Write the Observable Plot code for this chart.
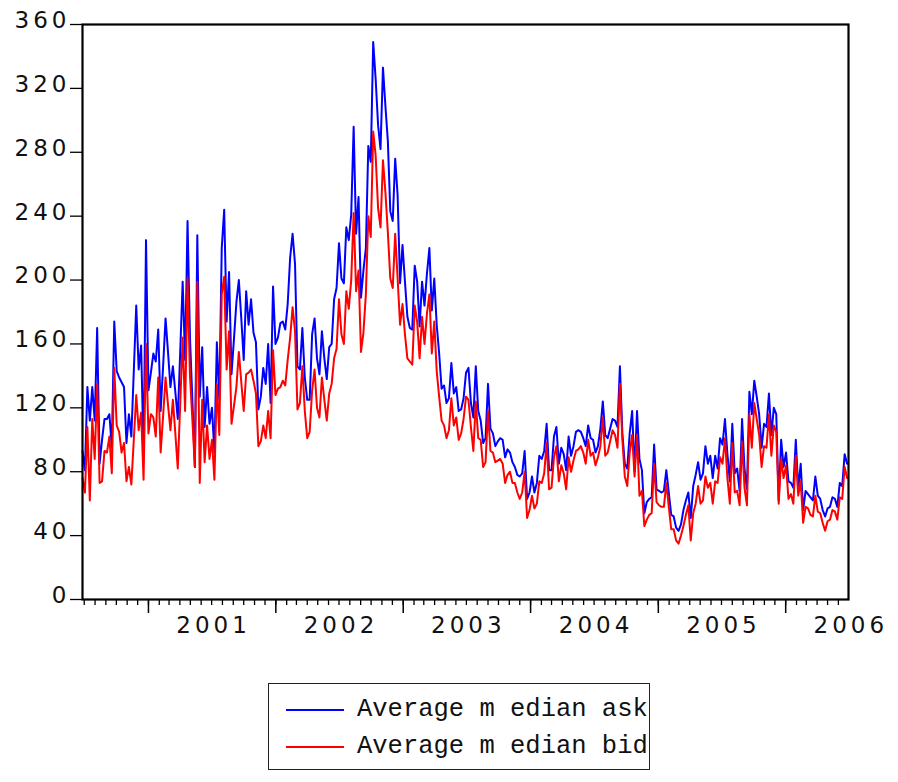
<!DOCTYPE html>
<html>
<head>
<meta charset="utf-8">
<script src="https://cdn.jsdelivr.net/npm/d3@7"></script>
<script src="https://cdn.jsdelivr.net/npm/@observablehq/plot@0.6"></script>
<style>
  html, body { margin: 0; padding: 0; background: #fff; }
  #wrap { position: relative; width: 898px; height: 782px; }
  #legend { position: absolute; left: 268px; top: 683px; width: 382px; height: 87px;
            border: 1.5px solid #222; box-sizing: border-box; background: #fff; }
  #legend .sw { position: absolute; left: 17px; width: 58px; height: 2px; }
  #legend .lt { position: absolute; left: 88px; font-family: "Liberation Mono", monospace;
                font-size: 25.5px; line-height: 26px; color: #111; white-space: pre; }
</style>
</head>
<body>
<div id="wrap"></div>
<script>
// Weekly observations, first week starting 2000-06-26
const startDate = "2000-06-26";
const seriesNames = ["Average m edian ask", "Average m edian bid"];
const seriesColors = ["#0000ff", "#ff0000"];

const ask = [
  93, 81,133,112,133,112,170, 85,100,113,113,116, 95,174,143,139,136,133, 98,116,
 102,143,184,144,159, 91,225,131,142,154,149,169,118,146,176,155,133,146,130,113,
 155,199,150,237,164,124, 83,228,127,158,108,133,110,120, 92,161,125,220,244,174,
 205,141,163,186,200,176,150,193,172,188,167,161,119,127,145,135,160,123,196,160,
 164,173,174,169,185,214,229,210,146,144,170,139,125,125,166,176,151,141,168,151,
 138,158,160,188,195,223,201,198,233,225,241,296,229,252,189,206,220,284,274,349,
 326,297,282,333,309,287,243,237,276,253,198,222,199,177,170,169,209,199,171,199,
 184,204,220,181,201,172,154,132,134,123,126,148,129,133,118,119,126,142,145,123,
 114,146,118,112, 98,101,135,107,104, 96, 99,101,100, 89, 94, 92, 86, 83, 78, 77,
  79, 93, 63, 67, 77, 67, 73, 90, 88, 93,110, 81, 81,102,108, 85, 95, 91, 81,102,
  90, 96,105,106,105,101, 96,109,101,100, 92, 96,107,124,103,101,107,113,112,108,
 146,104, 85, 82,104,118, 80,118, 88, 81, 54, 61, 63, 64, 97, 69, 68, 67, 68, 81,
  67, 53, 52, 45, 43, 47, 56, 62, 67, 51, 71, 78, 86, 75, 79, 96, 85, 90, 76, 90,
  82,101, 97,113, 91, 74,110, 79, 82, 68,113, 82, 69,130,116,137,127,116, 95,110,
 108,129,103,120,116, 62,100, 83, 92, 74, 73, 70,100, 69, 85, 56, 68, 66, 64, 62,
  77, 65, 63, 56, 52, 57, 58, 64, 63, 58, 73, 71, 91, 85
];
const bid = [
  76, 67,108, 62,113, 88,135, 73, 74, 93, 92,102, 79,145,109,105, 92, 98, 74, 83,
  72,100,128,106,117, 75,160,104,116,114,102,139, 92,115,139,122,106,125,104, 82,
 122,164,118,201,140,112, 83,199, 73,125, 86,109, 88,100, 75,135,103,191,202,144,
 168,110,121,133,155,136,118,141,142,144,137,129, 96, 99,109,101,118,101,156,128,
 132,133,137,134,150,164,183,168,119,123,146,118,101,105,131,144,120,114,139,125,
 112,129,135,151,157,188,166,160,193,182,200,242,193,206,155,167,191,240,227,293,
 278,245,233,275,255,230,201,195,229,201,172,185,166,151,149,147,184,174,151,177,
 160,179,191,154,174,143,127,112,109,101,106,126,109,114,100,104,113,127,125,108,
  93,124,101,100, 83, 86,118, 93, 92, 86, 87, 88, 85, 73, 78, 80, 73, 73, 67, 63,
  67, 80, 51, 56, 65, 57, 60, 74, 73, 79, 98, 69, 70, 89, 96, 74, 84, 79, 69, 89,
  80, 87, 93, 94, 96, 92, 85,100, 90, 92, 84, 89, 96,114, 90, 92, 99,106,103, 95,
 135,100, 77, 71, 92,103, 77,103, 65, 68, 46, 50, 53, 54, 85, 61, 59, 58, 58, 73,
  58, 44, 44, 37, 35, 40, 46, 53, 59, 37, 54, 60, 71, 60, 62, 77, 70, 73, 60, 74,
  73, 89, 85,101, 76, 60, 98, 67, 68, 59, 99, 70, 59,116, 95,123,113,103, 83, 96,
  95,116, 90,109,105, 60, 88, 76, 84, 63, 66, 60, 90, 65, 74, 48, 58, 57, 53, 52,
  65, 55, 54, 48, 43, 49, 50, 56, 55, 50, 64, 63, 83, 76
];
const yTicks = [0, 40, 80, 120, 160, 200, 240, 280, 320, 360];
const yearLabels = [2001, 2002, 2003, 2004, 2005, 2006];

const t0 = new Date(startDate + "T00:00:00Z");
const data = ask.map((a, i) => ({date: d3.utcDay.offset(t0, 7 * i), ask: a, bid: bid[i]}));
const domain = [t0, new Date("2006-06-30T00:00:00Z")];
const months = d3.utcMonth.range(d3.utcMonth.ceil(domain[0]), domain[1]);
const years = d3.utcYear.range(d3.utcYear.ceil(domain[0]), domain[1]);
const yearMids = yearLabels.map(y => new Date(Date.UTC(y, 6, 1)));

const font = "DejaVu Sans";
const spacing = 4;
const chart = Plot.plot({
  width: 898,
  height: 660,
  marginLeft: 82,
  marginRight: 50,
  marginTop: 24,
  marginBottom: 61,
  style: {background: "#fff", overflow: "visible"},
  x: {type: "utc", domain, axis: null, label: null},
  y: {domain: [0, 360], axis: null, label: null},
  marks: [
    Plot.lineY(data, {x: "date", y: "ask", stroke: seriesColors[0], strokeWidth: 2}),
    Plot.lineY(data, {x: "date", y: "bid", stroke: seriesColors[1], strokeWidth: 2}),
    Plot.axisX(months, {tickSize: 6, tickFormat: () => "", stroke: "#000", strokeWidth: 1.3}),
    Plot.axisX(years, {tickSize: 14, tickFormat: () => "", stroke: "#000", strokeWidth: 1.5}),
    Plot.axisY(yTicks, {tickSize: 12, tickFormat: () => "", stroke: "#000", strokeWidth: 1.3}),
    Plot.frame({stroke: "#000", strokeWidth: 2.2}),
    Plot.text(yTicks, {y: d => d, frameAnchor: "left", dx: -16 + spacing, dy: -4, textAnchor: "end",
      text: d => String(d), fontSize: 23, fontFamily: font, fill: "#111", className: "axlab"}),
    Plot.text(yearMids, {x: d => d, frameAnchor: "bottom", dy: 33, dx: spacing / 2,
      text: (d, i) => String(yearLabels[i]), fontSize: 23, fontFamily: font, fill: "#111", className: "axlab"})
  ]
});
const wrap = document.getElementById("wrap");
wrap.appendChild(chart);
chart.querySelectorAll(".axlab text, text.axlab").forEach(t => t.style.letterSpacing = spacing + "px");

const legend = document.createElement("div");
legend.id = "legend";
seriesNames.forEach((name, i) => {
  const sw = document.createElement("div");
  sw.className = "sw";
  sw.style.top = (25 + i * 37) + "px";
  sw.style.background = seriesColors[i];
  legend.appendChild(sw);
  const lt = document.createElement("div");
  lt.className = "lt";
  lt.style.top = (13 + i * 37) + "px";
  lt.textContent = name;
  legend.appendChild(lt);
});
wrap.appendChild(legend);
</script>
</body>
</html>
